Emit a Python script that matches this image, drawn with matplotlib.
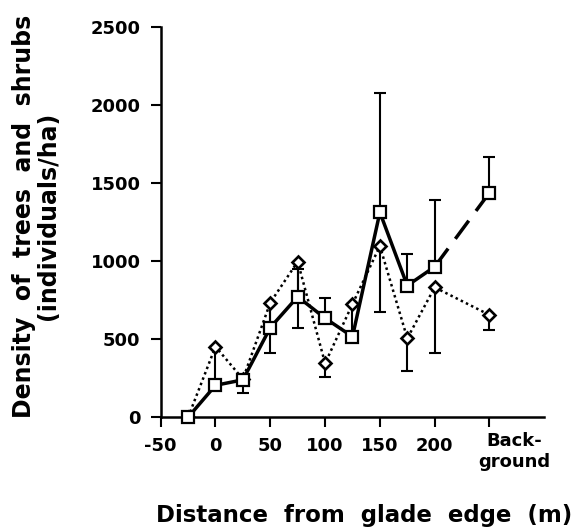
import numpy as np
import matplotlib
matplotlib.use('Agg')
import matplotlib.pyplot as plt
from matplotlib.transforms import ScaledTranslation

plt.rcParams['font.family'] = ['DejaVu Sans']
plt.rcParams['font.weight'] = 'bold'

# distance from glade edge (m); 250 = background
dist = [-25, 0, 25, 50, 75, 100, 125, 150, 175, 200]
bg_x = 250

# squares (solid line)
sq = [0, 205, 240, 575, 773, 635, 517, 1314, 844, 965]
sq_bg = 1440
sq_top = [0, 453, 240, 735, 950, 763, 726, 2077, 1045, 1393]
sq_bg_top = 1667

# diamonds (dotted line)
dm = [0, 453, 245, 735, 998, 346, 726, 1098, 506, 833]
dm_bg = 656
dm_low = [0, 453, 154, 414, 574, 260, 726, 677, 299, 410]
dm_bg_low = 560

xticks = [-50, 0, 50, 100, 150, 200, 250]
xticklabels = ['-50', '0', '50', '100', '150', '200', 'Back-\nground']
yticks = [0, 500, 1000, 1500, 2000, 2500]

fig = plt.figure(figsize=(5.77, 5.27), dpi=100)
ax = fig.add_axes([0.2785, 0.2082, 0.6648, 0.74])

xs = np.array(dist + [bg_x])
sq_all = np.array(sq + [sq_bg])
sq_up = np.array(sq_top + [sq_bg_top]) - sq_all
dm_all = np.array(dm + [dm_bg])
dm_dn = dm_all - np.array(dm_low + [dm_bg_low])

# error bars of squares (upper) sit below the diamonds
ax.errorbar(xs, sq_all, yerr=[np.zeros_like(sq_up), sq_up], fmt='none',
            ecolor='black', elinewidth=1.5, capsize=4.5, capthick=1.5, zorder=2)

# diamonds, dotted
ax.errorbar(xs, dm_all, yerr=[dm_dn, np.zeros_like(dm_dn)], fmt='none',
            ecolor='black', elinewidth=1.5, capsize=4.5, capthick=1.5, zorder=3)
ax.plot(xs, dm_all, linestyle=(0, (1, 1.3)), color='black', lw=1.8, marker='D',
        ms=6.2, mfc='white', mec='black', mew=1.9, zorder=4)

# squares, solid then dashed to background
ax.plot(dist, sq, linestyle='-', color='black', lw=2.5, zorder=5)
ax.plot([dist[-1], bg_x], [sq[-1], sq_bg], linestyle=(0, (6.5, 3.5)),
        color='black', lw=2.5, zorder=5)
ax.plot(xs, sq_all, linestyle='none', marker='s', ms=8.5, mfc='white',
        mec='black', mew=1.6, zorder=6, clip_on=False)

ax.set_xlim(-50, 300)
ax.set_ylim(0, 2500)
ax.set_xticks(xticks)
ax.set_xticklabels(xticklabels)
ax.set_yticks(yticks)
ax.tick_params(axis='both', direction='out', length=7.5, width=1.5,
               labelsize=13, pad=7)
ax.spines['top'].set_visible(False)
ax.spines['right'].set_visible(False)
ax.spines['left'].set_linewidth(1.8)
ax.spines['bottom'].set_linewidth(1.8)

bg_lab = ax.get_xticklabels()[-1]
bg_lab.set_transform(bg_lab.get_transform()
                     + ScaledTranslation(0.25, 0.05, fig.dpi_scale_trans))

fig.text(364 / 577, 1 - 521.7 / 527, 'Distance  from  glade  edge  (m)',
         ha='center', va='baseline', fontsize=16.5, fontweight='bold')
fig.text(36 / 577, 1 - 216 / 527,
         'Density  of  trees  and  shrubs\n(individuals/ha)',
         rotation=90, ha='center', va='center', multialignment='center',
         fontsize=17, fontweight='bold', linespacing=1.0)

fig.savefig('out.png', dpi=100)
